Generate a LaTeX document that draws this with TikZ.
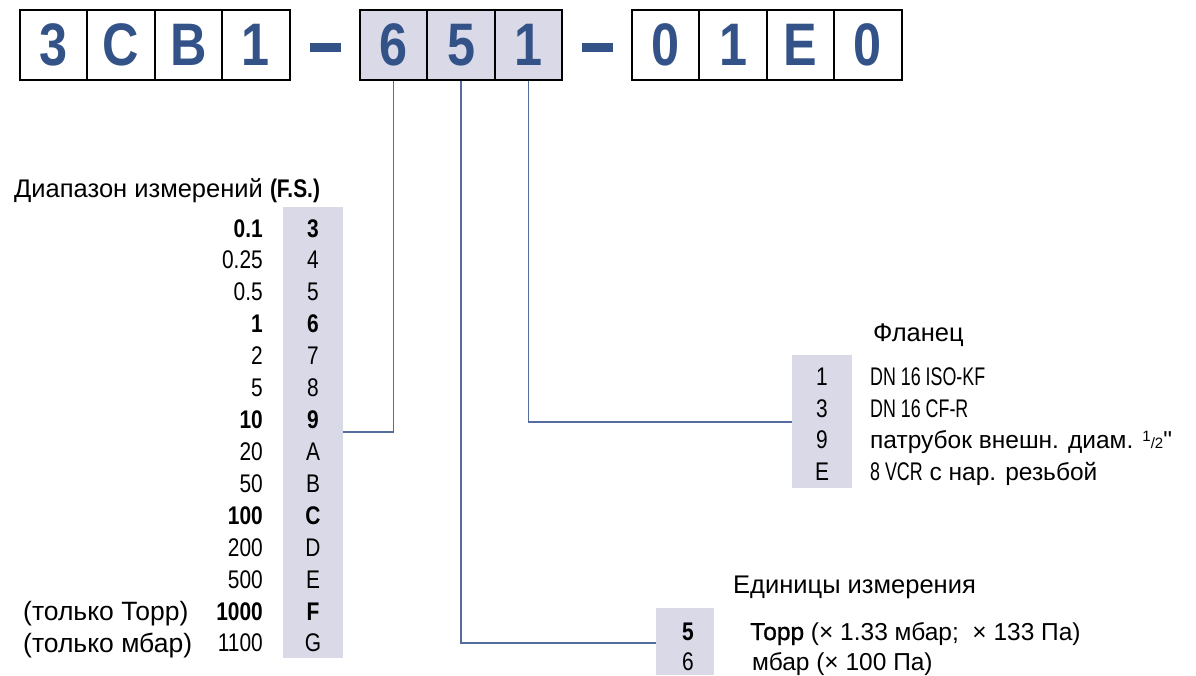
\documentclass[tikz,border=0pt]{standalone}
\usepackage{fontspec}
\setmainfont{Liberation Sans}
\newfontfamily\cnd[FakeStretch=0.82]{Liberation Sans}
\newfontfamily\cndn[FakeStretch=0.7]{Liberation Sans}
\newfontfamily\medf[FakeBold=1.2]{Liberation Sans}
\newfontfamily\rawf[Ligatures=TeXOff]{Liberation Sans}
\newfontfamily\topf[FakeStretch=0.84]{Liberation Sans}
\definecolor{codeblue}{RGB}{50,82,136}
\definecolor{shade}{RGB}{217,217,232}
\definecolor{connc}{RGB}{84,108,158}
\tikzset{
  topcell/.style={draw=black, line width=2pt, minimum width=67.4pt, minimum height=70pt, inner sep=0pt,
    font=\fontsize{60}{60}\selectfont\topf\bfseries, text=codeblue},
  topshade/.style={topcell, fill=shade},
  dashbar/.style={fill=codeblue, draw=none, minimum width=31pt, minimum height=9pt, inner sep=0pt},
  conn/.style={draw=connc, line width=1.5pt},
  shadecol/.style={fill=shade, draw=none, inner sep=0pt},
  body/.style={font=\fontsize{24.5}{28}\selectfont, inner sep=0pt},
  num/.style={font=\fontsize{25.5}{28}\selectfont\cnd, inner sep=0pt},
  ttl/.style={font=\fontsize{25.5}{30}\selectfont, inner sep=0pt},
}
\begin{document}
\begin{tikzpicture}[x=1pt,y=-1pt]
\useasboundingbox (0,0) rectangle (1196,675);
% shaded columns
\node[shadecol, minimum width=60pt, minimum height=451pt, anchor=north west] (rangecol) at (283,207) {};
\node[shadecol, minimum width=60pt, minimum height=133pt, anchor=north west] (flangecol) at (792,355) {};
\node[shadecol, minimum width=58pt, minimum height=67pt, anchor=north west] (unitcol) at (656,608) {};
% top code
\node[topcell] (g1a) at (53.7,45) {3};
\node[topcell] (g1b) at (121.1,45) {C};
\node[topcell] (g1c) at (188.5,45) {B};
\node[topcell] (g1d) at (255.9,45) {1};
\node[dashbar] (d1) at (325,47.5) {};
\node[topshade] (g2a) at (393.7,45) {6};
\node[topshade] (g2b) at (461.1,45) {5};
\node[topshade] (g2c) at (528.5,45) {1};
\node[dashbar] (d2) at (597,47.5) {};
\node[topcell] (g3a) at (665.7,45) {0};
\node[topcell] (g3b) at (733.1,45) {1};
\node[topcell] (g3c) at (800.5,45) {E};
\node[topcell] (g3d) at (867.9,45) {0};
% connectors
\coordinate (k1) at (343,432);
\coordinate (k2) at (656,643);
\coordinate (k3) at (792,422);
\draw[conn] (g2a.south) |- (k1);
\draw[conn] (g2b.south) |- (k2);
\draw[conn] (g2c.south) |- (k3);
% range
\node[ttl, anchor=base west] (rtitle) at (14,197) {Диапазон измерений {\cnd\bfseries (F.S.)}};
\foreach \i/\v/\c/\w in {0/0.1/3/\bfseries, 1/0.25/4/\mdseries, 2/0.5/5/\mdseries, 3/1/6/\bfseries,
  4/2/7/\mdseries, 5/5/8/\mdseries, 6/10/9/\bfseries, 7/20/A/\mdseries, 8/50/B/\mdseries,
  9/100/C/\bfseries, 10/200/D/\mdseries, 11/500/E/\mdseries, 12/1000/F/\bfseries, 13/1100/G/\mdseries}{
  \pgfmathsetmacro\yb{237+31.92*\i}
  \node[num, anchor=base east] (v\i) at (263,\yb) {\w\v};
  \node[num, anchor=base] (c\i) at (313,\yb) {\w\c};
}
\node[body, font=\fontsize{26.5}{28}\selectfont, anchor=base west] (onlytorr) at (23,620) {(только Торр)};
\node[body, font=\fontsize{26.5}{28}\selectfont, anchor=base west] (onlymbar) at (23,652) {(только мбар)};
% flange
\node[ttl, anchor=base west] (ftitle) at (873,341) {Фланец};
\node[num, anchor=base] (f1) at (822,385) {1};
\node[num, anchor=base] (f2) at (822,417) {3};
\node[num, anchor=base] (f3) at (822,448) {9};
\node[num, anchor=base] (f4) at (822,480) {E};
\node[body, font=\fontsize{25.5}{28}\selectfont, anchor=base west] (ft1) at (870,385) {\cndn DN 16 ISO-KF};
\node[body, font=\fontsize{25.5}{28}\selectfont, anchor=base west] (ft2) at (870,417) {\cndn DN 16 CF-R};
\node[body, anchor=base west] (ft3) at (870,448) {патрубок внешн. диам. {\fontsize{15}{15}\selectfont\raisebox{7pt}{1}/2}{\rawf\symbol{34}}};
\node[body, anchor=base west] (ft4) at (870,480) {{\fontsize{25.5}{28}\selectfont\cndn 8 VCR} с нар. резьбой};
% units
\node[ttl, anchor=base west] (utitle) at (733,593) {Единицы измерения};
\node[num, anchor=base] (u1) at (688,640) {\bfseries 5};
\node[num, anchor=base] (u2) at (688,670) {6};
\node[body, anchor=base west] (ut1) at (750,640) {{\medf Торр} (× 1.33 мбар;\ \ × 133 Па)};
\node[body, anchor=base west] (ut2) at (752,670) {мбар (× 100 Па)};
\end{tikzpicture}
\end{document}
